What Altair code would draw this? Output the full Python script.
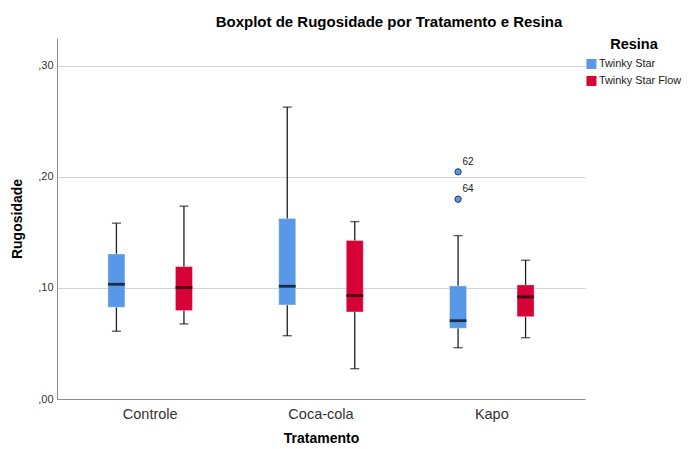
import altair as alt
import pandas as pd

# ---- data ----
tratamento = ["Controle", "Controle", "Coca-cola", "Coca-cola", "Kapo", "Kapo"]
resina = ["Twinky Star", "Twinky Star Flow"] * 3
whisker_low = [0.0610, 0.0676, 0.0570, 0.0273, 0.0462, 0.0552]
q1 = [0.0826, 0.0796, 0.0847, 0.0784, 0.0637, 0.0741]
median = [0.1033, 0.1003, 0.1015, 0.0931, 0.0705, 0.0919]
q3 = [0.1306, 0.1192, 0.1624, 0.1426, 0.1018, 0.1027]
whisker_high = [0.1583, 0.1736, 0.2628, 0.1597, 0.1471, 0.1249]

outlier_tratamento = ["Kapo", "Kapo"]
outlier_resina = ["Twinky Star", "Twinky Star"]
outlier_valor = [0.2045, 0.1799]
outlier_caso = ["62", "64"]

cat_order = ["Controle", "Coca-cola", "Kapo"]
res_order = ["Twinky Star", "Twinky Star Flow"]
y_ticks = [0.0, 0.1, 0.2, 0.3]

df = pd.DataFrame({
    "Tratamento": tratamento, "Resina": resina,
    "low": whisker_low, "q1": q1, "median": median, "q3": q3, "high": whisker_high,
})
out_df = pd.DataFrame({
    "Tratamento": outlier_tratamento, "Resina": outlier_resina,
    "valor": outlier_valor, "caso": outlier_caso,
})

FONT = "Liberation Sans"
colors = ["#5898E6", "#D70037"]

x_axis = alt.Axis(title="Tratamento", labelAngle=0, ticks=False, labelFontSize=14.5,
                  labelColor="#333333", labelPadding=8, titleFontSize=14,
                  titleFontWeight="bold", titleColor="black", titlePadding=11,
                  domainColor="#8a8a8a", grid=False)
y_axis = alt.Axis(title="Rugosidade", values=y_ticks, ticks=False,
                  labelExpr="replace(format(datum.value, '.2f'), '0.', ',')",
                  labelFontSize=11, labelColor="#333333", labelPadding=4,
                  titleFontSize=14, titleFontWeight="bold", titleColor="black",
                  titlePadding=13, grid=True, gridColor="#d4d4d4",
                  domainColor="#8a8a8a")
y_scale = alt.Scale(domain=[0, 0.325], nice=False, zero=True)

x_enc = alt.X("Tratamento:N", sort=cat_order,
              scale=alt.Scale(paddingInner=0, paddingOuter=0.0455), axis=x_axis)
xo_enc = alt.XOffset("Resina:N", sort=res_order,
                     scale=alt.Scale(domain=res_order, paddingInner=0.748, paddingOuter=0.639))


def Y(field):
    return alt.Y(field, scale=y_scale, axis=y_axis)


base = alt.Chart(df).encode(x=x_enc, xOffset=xo_enc)

whisk = base.mark_rule(color="#1e1e1e", strokeWidth=1.3).encode(y=Y("low:Q"), y2="high:Q")
cap_low = base.mark_tick(color="#1e1e1e", size=9, thickness=1.4).encode(y=Y("low:Q"))
cap_high = base.mark_tick(color="#1e1e1e", size=9, thickness=1.4).encode(y=Y("high:Q"))
box = base.mark_bar(stroke="white", strokeOpacity=0.35, strokeWidth=1).encode(
    y=Y("q1:Q"), y2="q3:Q",
    color=alt.Color("Resina:N", sort=res_order,
                    scale=alt.Scale(domain=res_order, range=colors),
                    legend=alt.Legend(title="Resina", titleFontSize=14.5, titleFontWeight="bold",
                                      titleColor="black", titleAnchor="middle", titlePadding=6,
                                      labelFontSize=10.9, labelColor="#222222", symbolType="square",
                                      symbolSize=100, symbolStrokeWidth=0, labelOffset=2,
                                      rowPadding=5, offset=1, padding=0)),
)
med = base.mark_tick(color="black", size=17, thickness=2.8).encode(y=Y("median:Q"))

obase = alt.Chart(out_df).encode(x=x_enc, xOffset=xo_enc, y=Y("valor:Q"))
pts = obase.mark_circle(size=40, color=colors[0], stroke="#2a3550", strokeWidth=1, opacity=1)
lbl = obase.mark_text(align="left", baseline="middle", dx=4.5, dy=-10, fontSize=10,
                      color="#222222").encode(text="caso:N")

chart = alt.layer(whisk, cap_low, cap_high, box, med, pts, lbl).properties(
    width=528, height=361,
    autosize=alt.AutoSizeParams(type="none"),
    padding={"left": 49, "top": 30, "right": 99, "bottom": 47},
    title=alt.Title("Boxplot de Rugosidade por Tratamento e Resina", fontSize=15,
                    fontWeight="bold", color="black", anchor="middle", frame="group",
                    dx=68, offset=8),
).configure(font=FONT).configure_view(stroke=None)

chart.save("out.html", embed_options={"renderer": "svg", "actions": False})
